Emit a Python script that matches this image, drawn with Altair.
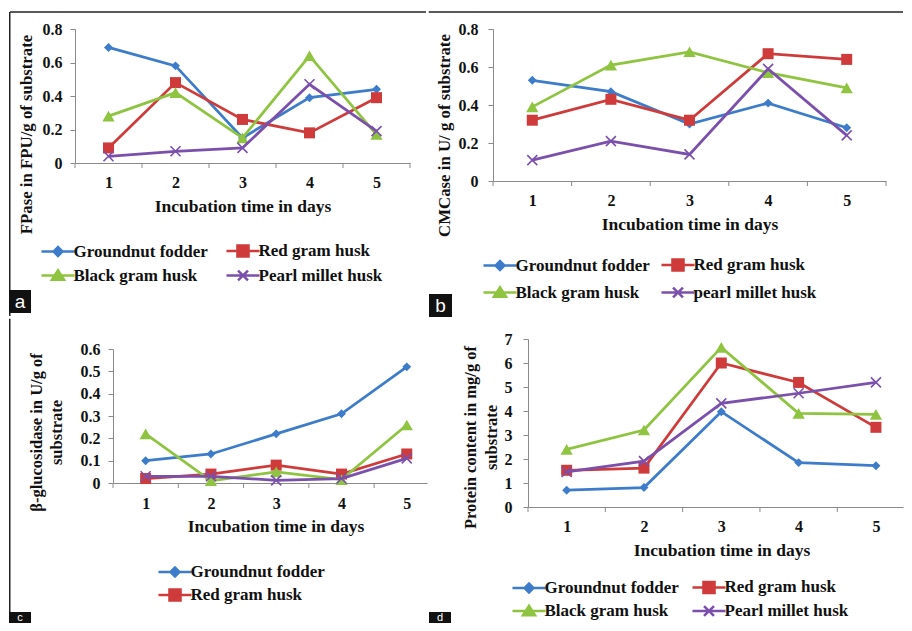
import altair as alt
import pandas as pd

# ---------------- data ----------------
DAYS = [1, 2, 3, 4, 5]
SERIES = ["Groundnut fodder", "Red gram husk", "Black gram husk", "Pearl millet husk"]
COLORS = ["#3d7cca", "#cf3b3b", "#8fc440", "#7b50ad"]

# (a) FPase in FPU/g of substrate
FPASE_GROUNDNUT = [0.69, 0.58, 0.15, 0.39, 0.44]
FPASE_RED = [0.09, 0.48, 0.26, 0.18, 0.39]
FPASE_BLACK = [0.28, 0.42, 0.15, 0.64, 0.17]
FPASE_PEARL = [0.04, 0.07, 0.09, 0.47, 0.19]

# (b) CMCase in U/g of substrate
CMC_GROUNDNUT = [0.53, 0.47, 0.30, 0.41, 0.28]
CMC_RED = [0.32, 0.43, 0.32, 0.67, 0.64]
CMC_BLACK = [0.39, 0.61, 0.68, 0.57, 0.49]
CMC_PEARL = [0.11, 0.21, 0.14, 0.59, 0.24]

# (c) beta-glucosidase in U/g of substrate
BGL_GROUNDNUT = [0.10, 0.13, 0.22, 0.31, 0.52]
BGL_RED = [0.02, 0.04, 0.08, 0.04, 0.13]
BGL_BLACK = [0.22, 0.01, 0.05, 0.015, 0.26]
BGL_PEARL = [0.03, 0.03, 0.012, 0.02, 0.11]

# (d) Protein content in mg/g of substrate
PROT_GROUNDNUT = [0.70, 0.81, 3.97, 1.85, 1.72]
PROT_RED = [1.53, 1.62, 6.00, 5.19, 3.32]
PROT_BLACK = [2.40, 3.21, 6.65, 3.90, 3.86]
PROT_PEARL = [1.46, 1.91, 4.32, 4.74, 5.19]

LEGEND_A = ["Groundnut fodder", "Red gram husk", "Black gram husk", "Pearl millet husk"]
LEGEND_B = ["Groundnut fodder", "Red gram husk", "Black gram husk", "pearl millet husk"]
LEGEND_C = ["Groundnut fodder", "Red gram husk"]
LEGEND_D = ["Groundnut fodder", "Red gram husk", "Black gram husk", "Pearl millet husk"]

Y_TICKS_AB = [0, 0.2, 0.4, 0.6, 0.8]
Y_TICKS_C = [0, 0.1, 0.2, 0.3, 0.4, 0.5, 0.6]
Y_TICKS_D = [0, 1, 2, 3, 4, 5, 6, 7]
X_TICK_MARKS = [0.5, 1.5, 2.5, 3.5, 4.5, 5.5]

# ---------------- styling ----------------
FONT = "Liberation Serif"
INK = "#111111"
GRAY = "#8a8a8a"
MARKERS = ["diamond", "square", "triangle-up", "M-1,-1L1,1M-1,1L1,-1"]
MARKER_SIZES = [80, 121, 150, 100]
LEGEND_SYMBOLS = [
    "M-2.36,0H2.36M-0.64,0L0,-0.64L0.64,0L0,0.64Z",
    "M-2.36,0H2.36M-0.79,-0.79H0.79V0.79H-0.79Z",
    "M-2.36,0H2.36M-0.86,0.6L0,-0.75L0.86,0.6Z",
    "M-2.36,0H2.36M-0.71,-0.71L0.71,0.71M-0.71,0.71L0.71,-0.71",
]


def long_df(series_lists):
    rows = []
    for name, vals in zip(SERIES, series_lists):
        for d, v in zip(DAYS, vals):
            rows.append({"day": d, "value": v, "series": name})
    return pd.DataFrame(rows)


ONE = pd.DataFrame({"k": [0]})


def panel(series_lists, s):
    df = long_df(series_lists)
    w, h = s["w"], s["h"]
    xs = alt.Scale(domain=[0.5, s["xmax"]], nice=False, zero=False)
    ys = alt.Scale(domain=[0, s["ymax"]], nice=False, zero=True)
    xaxis = alt.Axis(
        values=DAYS, ticks=False, grid=False, domainColor=GRAY, domainWidth=1,
        labelAngle=0, labelFont=FONT, labelFontSize=16, labelFontWeight="bold",
        labelColor=INK, labelPadding=s["xlabpad"],
        title="Incubation time in days", titleFont=FONT, titleFontSize=17.5,
        titleFontWeight="bold", titleColor=INK, titleX=s["xtitle_x"], titleY=48,
        titleBaseline="alphabetic", titleAlign="center",
    )
    yaxis = alt.Axis(
        values=s["yticks"], labelExpr=s["labexpr"], tickSize=5, tickColor=GRAY,
        domainColor=GRAY, grid=False, labelFont=FONT, labelFontSize=16,
        labelFontWeight="bold", labelColor=INK, labelPadding=s["ylabpad"],
        title=s["ytitle"], titleFont=FONT, titleFontSize=s["ytsize"],
        titleFontWeight="bold", titleColor=INK, titleAngle=270,
        titleX=s["ytx"], titleY=s["yty"], titleAlign="center",
        titleBaseline="middle", titleLineHeight=s.get("ytlh", 20),
    )
    X = alt.X("day:Q", scale=xs, axis=xaxis)
    Y = alt.Y("value:Q", scale=ys, axis=yaxis)

    cx0, cx1, cy0, cy1 = s["cell"]
    layers = []
    # invisible frame: fixes the panel's extent inside the 2x2 grid
    layers.append(
        alt.Chart(ONE).mark_rect(opacity=0).encode(
            x=alt.value(cx0), x2=alt.value(cx1), y=alt.value(cy0), y2=alt.value(cy1)
        )
    )
    # category tick marks between days (Excel style)
    ticks = pd.DataFrame({"t": [t for t in X_TICK_MARKS if t <= s["xmax"]]})
    layers.append(
        alt.Chart(ticks).mark_rule(color=GRAY, strokeWidth=1).encode(
            x=alt.X("t:Q", scale=xs, axis=xaxis), y=alt.value(h), y2=alt.value(h + 5)
        )
    )
    for i, name in enumerate(SERIES):
        sub = df[df["series"] == name]
        base = alt.Chart(sub).encode(x=X, y=Y)
        layers.append(base.mark_line(color=COLORS[i], strokeWidth=2.75))
        if i == 3:
            layers.append(base.mark_point(shape=MARKERS[i], filled=False, stroke=COLORS[i],
                                          strokeWidth=1.6, size=MARKER_SIZES[i], opacity=1))
        else:
            layers.append(base.mark_point(shape=MARKERS[i], filled=True, fill=COLORS[i],
                                          size=MARKER_SIZES[i], opacity=1))
    # legend-only layer (no visible marks)
    names = s["legend"]
    n = len(names)
    leg = alt.Legend(
        orient="none", legendX=s["lx"], legendY=s["ly"], columns=s["lcols"],
        direction="horizontal" if s["lcols"] > 1 else "vertical",
        columnPadding=s["lcolpad"], rowPadding=s["lrowpad"], title=None, padding=0,
        labelFont=FONT, labelFontSize=17, labelFontWeight="bold", labelColor=INK,
        labelOffset=s["loff"], symbolSize=196, symbolStrokeWidth=2.5, labelLimit=300,
    )
    ldf = pd.DataFrame({"series": names})
    layers.append(
        alt.Chart(ldf).transform_filter("false").mark_point(filled=True, opacity=1).encode(
            color=alt.Color("series:N", scale=alt.Scale(domain=names, range=COLORS[:n]), legend=leg),
            stroke=alt.Stroke("series:N", scale=alt.Scale(domain=names, range=COLORS[:n]), legend=leg),
            shape=alt.Shape("series:N", scale=alt.Scale(domain=names, range=LEGEND_SYMBOLS[:n]), legend=leg),
        )
    )
    # figure frame lines
    if "top" in s:
        ty, tx0, tx1 = s["top"]
        layers.append(alt.Chart(ONE).mark_rule(color="#222222", strokeWidth=1.5).encode(
            x=alt.value(tx0), x2=alt.value(tx1), y=alt.value(ty)))
    if "left" in s:
        lx, ly0, ly1 = s["left"]
        layers.append(alt.Chart(ONE).mark_rule(color="#222222", strokeWidth=1.5).encode(
            x=alt.value(lx), y=alt.value(ly0), y2=alt.value(ly1)))
    # panel letter box
    bx0, by0, bx1, by1 = s["box"]
    layers.append(alt.Chart(ONE).mark_rect(color="#111111").encode(
        x=alt.value(bx0), x2=alt.value(bx1), y=alt.value(by0), y2=alt.value(by1)))
    layers.append(alt.Chart(ONE).mark_text(
        text=s["letter"], font="Liberation Sans", fontSize=s["lsize"], color="white",
        align="center", baseline="middle").encode(
        x=alt.value((bx0 + bx1) / 2), y=alt.value(s["letter_y"])))
    return alt.layer(*layers).properties(width=w, height=h)


def independent(c):
    return c.resolve_scale(
        x="independent", y="independent", color="independent",
        stroke="independent", shape="independent",
    ).resolve_legend(color="independent", stroke="independent", shape="independent")


def spacer():
    return alt.Chart(ONE).mark_rect(opacity=0).encode(
        x=alt.value(0), x2=alt.value(1), y=alt.value(0), y2=alt.value(1)
    ).properties(width=1, height=1)


def anchored(p):
    # puts the panel's top-left corner at a fixed point of its grid cell
    inner = independent(alt.hconcat(spacer(), p, spacing=0))
    return independent(alt.vconcat(spacer(), inner, spacing=0))


LAB1 = "datum.value == 0 ? '0' : format(datum.value, '.1f')"
LAB0 = "format(datum.value, 'd')"

pa = panel([FPASE_GROUNDNUT, FPASE_RED, FPASE_BLACK, FPASE_PEARL], dict(
    w=335, h=134, xmax=5.5, ymax=0.8, yticks=Y_TICKS_AB, labexpr=LAB1,
    xlabpad=11, ylabpad=8, xtitle_x=167.5,
    ytitle="FPase in FPU/g of substrate", ytsize=16.8, ytx=-49, yty=105,
    legend=LEGEND_A, lx=-25.5, ly=213, lcols=2, lcolpad=12, lrowpad=3, loff=7,
    cell=(-66, 352, -20, 288), top=(-17, -65, 351), left=(-65.25, -17, 287),
    box=(-66, 261, -44, 284), letter="a", lsize=19, letter_y=272.5,
))

pb = panel([CMC_GROUNDNUT, CMC_RED, CMC_BLACK, CMC_PEARL], dict(
    w=393, h=152, xmax=5.5, ymax=0.8, yticks=Y_TICKS_AB, labexpr=LAB1,
    xlabpad=11, ylabpad=10, xtitle_x=196.5,
    ytitle="CMCase in U/ g of substrate", ytsize=16.8, ytx=-49, yty=106,
    legend=LEGEND_B, lx=-1.5, ly=227, lcols=2, lcolpad=5, lrowpad=6, loff=7,
    cell=(-65, 411, -20, 288), top=(-17, -64.25, 410),
    box=(-64, 265, -41, 288), letter="b", lsize=19, letter_y=276.5,
))

pc = panel([BGL_GROUNDNUT, BGL_RED, BGL_BLACK, BGL_PEARL], dict(
    w=314, h=134, xmax=5.31, ymax=0.6, yticks=Y_TICKS_C, labexpr=LAB1,
    xlabpad=12, ylabpad=8, xtitle_x=162.5,
    ytitle=["\u03b2-glucosidase in U/g of", "substrate"], ytsize=16.5, ytx=-77, yty=83,
    legend=LEGEND_C, lx=53.5, ly=214.5, lcols=1, lcolpad=5, lrowpad=2, loff=7,
    cell=(-104, 314, -31, 274), left=(-103.25, -30.25, 273.25),
    box=(-104, 263, -82, 274), letter="c", lsize=11, letter_y=268.5,
))

pd_ = panel([PROT_GROUNDNUT, PROT_RED, PROT_BLACK, PROT_PEARL], dict(
    w=375, h=168, xmax=5.35, ymax=7, yticks=Y_TICKS_D, labexpr=LAB0,
    xlabpad=11, ylabpad=11, xtitle_x=193.5,
    ytitle=["Protein content in mg/g of", "substrate"], ytsize=16.5, ytx=-57.5, yty=98, ytlh=21,
    legend=LEGEND_D, lx=-7.5, ly=239.5, lcols=2, lcolpad=7, lrowpad=2, loff=7,
    cell=(-100, 376, -21, 284),
    box=(-99, 273, -77, 284), letter="d", lsize=11, letter_y=278.5,
))

chart = independent(
    alt.concat(anchored(pa), anchored(pb), anchored(pc), anchored(pd_), columns=2, spacing=0)
).properties(padding=0, background="white").configure_view(stroke=None)

chart.save("out.html", embed_options={"renderer": "svg", "actions": False})
